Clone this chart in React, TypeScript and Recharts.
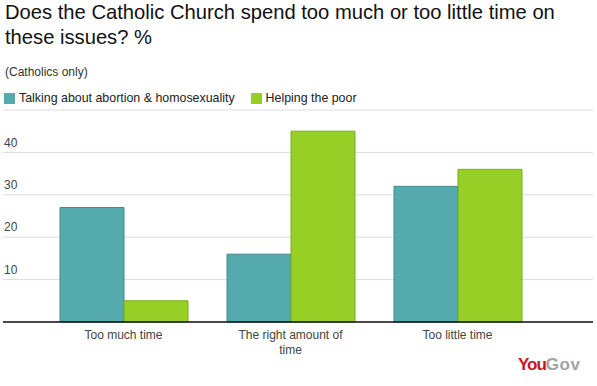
import { BarChart, Bar, XAxis, YAxis, CartesianGrid, Legend } from 'recharts';

const categories = ['Too much time', 'The right amount of time', 'Too little time'];
const talkingValues = [27, 16, 32];
const helpingValues = [5, 45, 36];
const yTicks = [10, 20, 30, 40];

const seriesNames = ['Talking about abortion & homosexuality', 'Helping the poor'];
const seriesColors = ['#55aaae', '#97cf27'];
const seriesStrokes = ['#3f8b8f', '#77ad22'];

const data = categories.map((label, i) => ({
  label,
  talking: talkingValues[i],
  helping: helpingValues[i],
}));

const FONT = '"Liberation Sans", Arial, sans-serif';

// simple word wrap, ~20 chars a line
function wrap(s: string, max = 20) {
  const lines: string[] = [];
  let cur = '';
  s.split(' ').forEach((w) => {
    const next = cur ? cur + ' ' + w : w;
    if (next.length > max && cur) {
      lines.push(cur);
      cur = w;
    } else {
      cur = next;
    }
  });
  if (cur) lines.push(cur);
  return lines;
}

const WrapTick = (props: any) => {
  const { x, y, payload } = props;
  const lines = wrap(String(payload.value));
  return (
    <text x={x} y={y} textAnchor="middle" fill="#444" fontSize={12} fontFamily={FONT}>
      {lines.map((l, i) => (
        <tspan key={i} x={x} dy={i === 0 ? 9 : 15}>
          {l}
        </tspan>
      ))}
    </text>
  );
};

const LegendContent = (props: any) => {
  const items = [...(props.payload || [])].sort(
    (a: any, b: any) => seriesNames.indexOf(a.value) - seriesNames.indexOf(b.value)
  );
  return (
    <div style={{ display: 'flex', fontFamily: FONT, fontSize: 12.4, color: '#222' }}>
      {items.map((it: any, i: number) => (
        <div key={i} style={{ display: 'flex', alignItems: 'center', marginRight: 16 }}>
          <span style={{ display: 'inline-block', width: 11, height: 11, background: it.color, marginRight: 4 }} />
          <span style={{ lineHeight: '14px' }}>{it.value}</span>
        </div>
      ))}
    </div>
  );
};

export default function App() {
  return (
    <div style={{ position: 'absolute', left: 0, top: 0, width: 597, height: 386, background: '#fff', fontFamily: FONT }}>
      <div style={{ position: 'absolute', left: 5, top: 0, width: 592, fontSize: 20.2, lineHeight: '25px', color: '#111' }}>
        Does the Catholic Church spend too much or too little time on these issues? %
      </div>
      <div style={{ position: 'absolute', left: 5, top: 65, fontSize: 12, lineHeight: '14px', color: '#333' }}>
        (Catholics only)
      </div>
      <BarChart
        width={597}
        height={386}
        data={data}
        margin={{ top: 110, right: 4, bottom: 0, left: 3 }}
        barCategoryGap={20}
        barGap={0}
      >
        <CartesianGrid vertical={false} stroke="#dcdcdc" />
        <XAxis
          dataKey="label"
          interval={0}
          tickLine={false}
          tickSize={6}
          tickMargin={2}
          axisLine={{ stroke: '#111', strokeWidth: 1.5 }}
          padding={{ left: 37, right: 52 }}
          tick={<WrapTick />}
          height={64}
        />
        <YAxis
          width={1}
          mirror
          domain={[0, 50]}
          ticks={yTicks}
          axisLine={false}
          tickLine={false}
          tickSize={0}
          tickMargin={1}
          tick={{ fill: '#444', fontSize: 12, dy: -10, fontFamily: FONT }}
        />
        <Legend
          layout="horizontal"
          verticalAlign="middle"
          align="center"
          wrapperStyle={{ top: 91, left: 4, width: 'auto' }}
          content={<LegendContent />}
        />
        <Bar dataKey="talking" name={seriesNames[0]} fill={seriesColors[0]} stroke={seriesStrokes[0]} isAnimationActive={false} />
        <Bar dataKey="helping" name={seriesNames[1]} fill={seriesColors[1]} stroke={seriesStrokes[1]} isAnimationActive={false} />
      </BarChart>
      <div style={{ position: 'absolute', left: 518, top: 355, fontSize: 17, fontWeight: 'bold', lineHeight: '20px' }}>
        <span style={{ color: '#c4161c', letterSpacing: -1 }}>You</span>
        <span style={{ color: '#a3a3a3', letterSpacing: 0.5 }}>Gov</span>
      </div>
    </div>
  );
}
